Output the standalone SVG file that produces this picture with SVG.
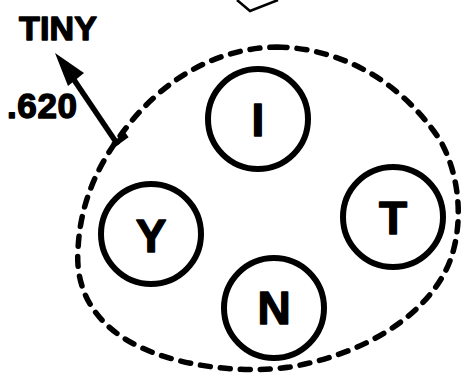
<svg xmlns="http://www.w3.org/2000/svg" width="463" height="375" viewBox="0 0 463 375">
<style>
.node circle{fill:none;stroke:#000;stroke-width:6}
.lbl{font-family:"Liberation Sans",Arial,sans-serif;font-weight:bold;fill:#000;stroke:#000;stroke-width:1.4;stroke-linejoin:round}
.node text{font-size:46px;text-anchor:middle}
</style>
<rect width="463" height="375" fill="#fff"/>
<path d="M237 0 L250 11 L278 0" fill="none" stroke="#000" stroke-width="2.5"/>
<g id="boundary">
<path d="M277 47 C340 48 400 80 440 140 C465 185 462 240 445 272 C420 320 360 355 290 367 C240 374 180 366 140 347 C95 326 75 290 78 250 C80 200 100 160 130 123 C165 80 215 48 277 47 Z" fill="none" stroke="#000" stroke-width="5.5" stroke-dasharray="10 10" stroke-linecap="round"/>
</g>
<g id="connectors">
<line x1="118" y1="145" x2="64" y2="65" stroke="#000" stroke-width="5.5"/>
<polygon points="55,53 84,73 68,86" fill="#000"/>
<line x1="113" y1="145" x2="127" y2="135" stroke="#000" stroke-width="5.5"/>
</g>
<g id="label-tiny"><text class="lbl" x="19" y="40" font-size="34" textLength="78">TINY</text></g>
<g id="label-620"><text class="lbl" x="7" y="118" font-size="35" textLength="70">.620</text></g>
<g id="node-I" class="node"><circle cx="258" cy="119" r="50"/><text class="lbl" x="258" y="136">I</text></g>
<g id="node-Y" class="node"><circle cx="151" cy="234" r="50"/><text class="lbl" x="151" y="252">Y</text></g>
<g id="node-T" class="node"><circle cx="393" cy="217" r="50"/><text class="lbl" x="393" y="234">T</text></g>
<g id="node-N" class="node"><circle cx="274" cy="308" r="50"/><text class="lbl" x="274" y="324">N</text></g>
</svg>
